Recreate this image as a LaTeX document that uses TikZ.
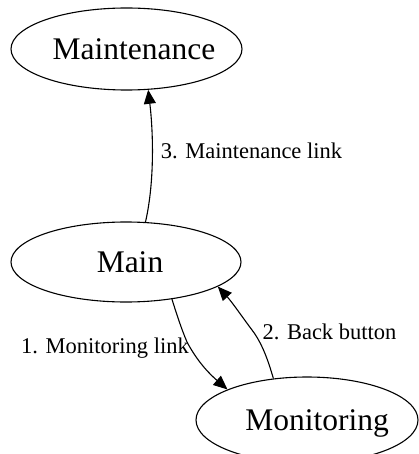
\documentclass[tikz,border=0pt]{standalone}
\usepackage{fontspec}
\setmainfont{Liberation Serif}
\usetikzlibrary{arrows.meta,shapes.geometric}
% shift a label sideways inside its node without changing the node size
\newcommand{\nudge}[2]{\kern#1#2\kern-#1}
\begin{document}
\begin{tikzpicture}[x=1pt,y=-1pt,
  state/.style={draw, ellipse, line width=1.1pt, inner sep=0pt,
    font=\fontsize{31.5}{36}\selectfont, text depth=0pt},
  link/.style={draw, line width=1.1pt, -{Triangle[length=14pt,width=12pt]}},
  tag/.style={inner sep=0pt, font=\fontsize{22.5}{27}\selectfont}]
\useasboundingbox (0,0) rectangle (418,454);

% pages
\node[state, minimum width=231pt, minimum height=82pt] (maint) at (126.5,49) {\nudge{7.5pt}{Maintenance}};
\node[state, minimum width=230pt, minimum height=80pt] (main) at (126,262) {\nudge{4pt}{Main}};
\node[state, minimum width=222pt, minimum height=86pt] (mon) at (307,420) {\nudge{10pt}{Monitoring}};

% navigation links
\draw[link] (main.-39) .. controls (176,312) and (181,328) .. (187,342)
  .. controls (195,357) and (205,370) .. (mon.159);
\draw[link] (mon.129) .. controls (268,360) and (262,343) .. (252,330)
  .. controls (243,318) and (232,302) .. (main.-15);
\draw[link] (main.64) .. controls (155,180) and (153,130) .. (maint.-62);

% link labels
\node[tag] (l1) at (105,348) {1. Monitoring link};
\node[tag] (l2) at (329.5,332) {2. Back button};
\node[tag] (l3) at (251.5,151) {3. Maintenance link};
\end{tikzpicture}
\end{document}
